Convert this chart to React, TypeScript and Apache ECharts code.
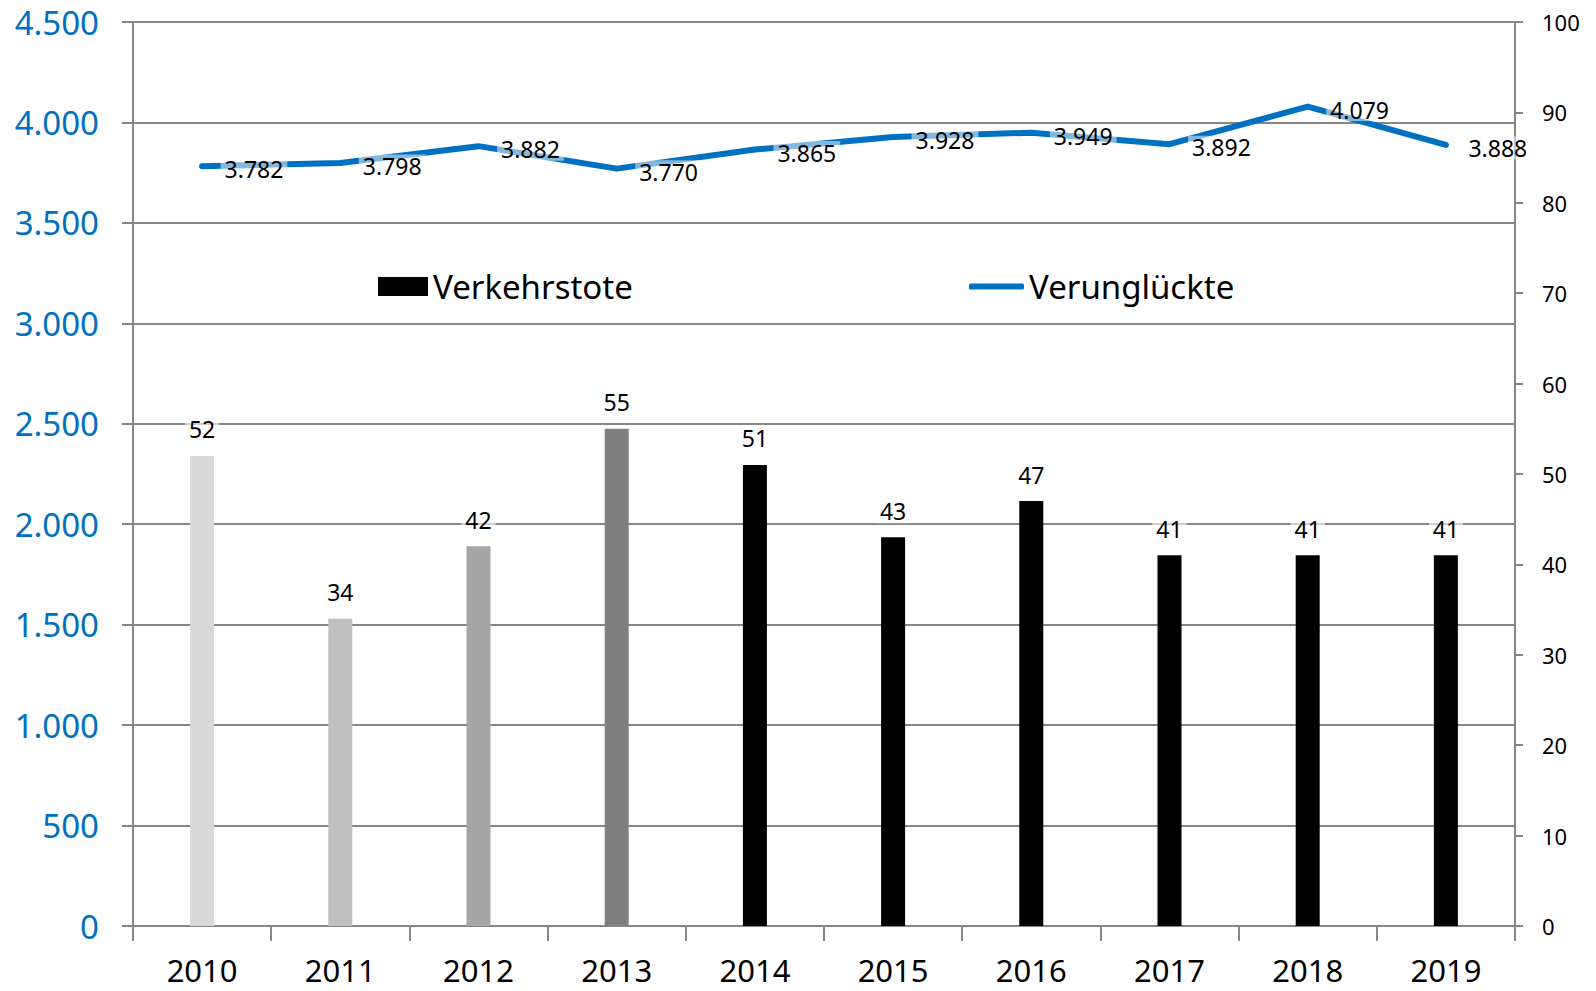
import React, { useEffect, useRef } from "react";
import * as echarts from "echarts";

const years = ["2010", "2011", "2012", "2013", "2014", "2015", "2016", "2017", "2018", "2019"];
const verkehrstote = [52, 34, 42, 55, 51, 43, 47, 41, 41, 41];
const verunglueckte = [3782, 3798, 3882, 3770, 3865, 3928, 3949, 3892, 4079, 3888];
const barColors = ["#D9D9D9", "#BFBFBF", "#A6A6A6", "#7F7F7F", "#000000", "#000000", "#000000", "#000000", "#000000", "#000000"];
const FONT = "'Noto Sans', 'Open Sans', sans-serif";

const fmt = (v: number) => String(v).replace(/\B(?=(\d{3})+(?!\d))/g, ".");

export default function App() {
  const ref = useRef<HTMLDivElement>(null);
  useEffect(() => {
    document.body.style.margin = "0";
    const chart = echarts.init(ref.current!, undefined, { renderer: "svg" });
    chart.setOption({
      animation: false,
      backgroundColor: "#fff",
      textStyle: { fontFamily: FONT },
      grid: { left: 133, right: 81, top: 22, bottom: 65, containLabel: false },
      legend: [
        {
          data: [{ name: "Verkehrstote", itemStyle: { color: "#000" } }],
          left: 373,
          top: 265,
          itemWidth: 50,
          itemHeight: 19,
          icon: "rect",
          textStyle: { fontSize: 33, color: "#000", fontFamily: FONT },
        },
        {
          data: [{ name: "Verunglückte", icon: "roundRect", itemStyle: { color: "#0070C0" } }],
          left: 964,
          top: 265,
          itemWidth: 55,
          itemHeight: 6,
          textStyle: { fontSize: 33, color: "#000", fontFamily: FONT },
        },
      ],
      xAxis: {
        type: "category",
        data: years,
        boundaryGap: true,
        axisLine: { lineStyle: { color: "#868686", width: 2 } },
        axisTick: { show: true, length: 15, lineStyle: { color: "#868686", width: 2 } },
        axisLabel: { fontSize: 31, color: "#000", margin: 29, fontFamily: FONT, lineHeight: 30 },
      },
      yAxis: [
        {
          type: "value",
          min: 0,
          max: 4500,
          interval: 500,
          position: "left",
          axisLine: { show: true, lineStyle: { color: "#868686", width: 2 } },
          axisTick: { show: true, length: 11, lineStyle: { color: "#868686", width: 2 } },
          splitLine: { show: true, lineStyle: { color: "#868686", width: 2 } },
          axisLabel: { fontSize: 33, color: "#0070C0", margin: 34, formatter: (v: number) => fmt(v), fontFamily: FONT },
        },
        {
          type: "value",
          min: 0,
          max: 100,
          interval: 10,
          position: "right",
          axisLine: { show: true, lineStyle: { color: "#868686", width: 2 } },
          axisTick: { show: true, length: 8, lineStyle: { color: "#868686", width: 2 } },
          splitLine: { show: false },
          axisLabel: { fontSize: 22, color: "#000", margin: 27, fontFamily: FONT },
        },
      ],
      series: [
        {
          name: "Verkehrstote",
          type: "bar",
          yAxisIndex: 1,
          barWidth: 24,
          data: verkehrstote.map((v, i) => ({ value: v, itemStyle: { color: barColors[i] } })),
          itemStyle: { color: "#000" },
          label: {
            show: true,
            position: "top",
            distance: 14,
            fontSize: 23,
            color: "#000",
            fontFamily: FONT,
            backgroundColor: "rgba(255,255,255,0.6)",
            padding: [1, 4],
          },
          z: 2,
        },
        {
          name: "Verunglückte",
          type: "line",
          yAxisIndex: 0,
          data: verunglueckte,
          symbol: "circle",
          symbolSize: 1,
          showSymbol: true,
          lineStyle: { color: "#0070C0", width: 6, cap: "round", join: "round" },
          itemStyle: { color: "#0070C0" },
          label: {
            show: true,
            position: "right",
            distance: 18,
            offset: [0, 3],
            fontSize: 23,
            color: "#000",
            fontFamily: FONT,
            formatter: (p: any) => fmt(p.value),
            backgroundColor: "rgba(255,255,255,0.5)",
            padding: [0, 4],
          },
          z: 3,
        },
      ],
    });
    return () => chart.dispose();
  }, []);
  return <div ref={ref} style={{ width: 1596, height: 991 }} />;
}
